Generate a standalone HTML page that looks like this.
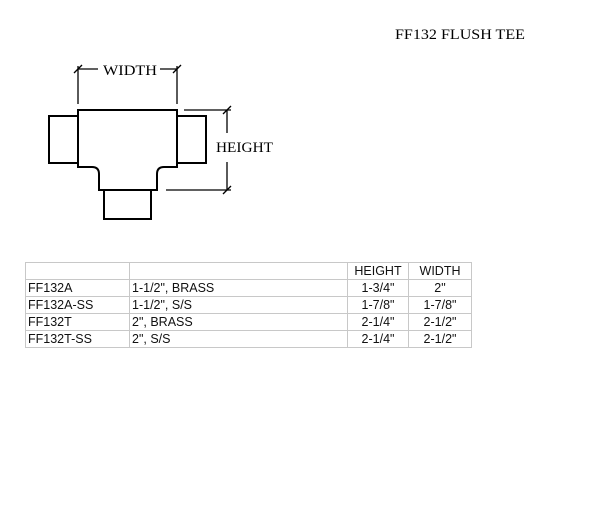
<!DOCTYPE html>
<html><head><style>
body{margin:0;background:#fff;width:613px;height:524px;position:relative;overflow:hidden}
svg{position:absolute;left:0;top:0}
table{position:absolute;left:25px;top:262px;border-collapse:collapse;font-family:"Liberation Sans",sans-serif;font-size:12.5px;color:#111}
td{border:1px solid #c8c8c8;height:16px;padding:0 2px;line-height:16px;white-space:nowrap}
td.c{text-align:center}
</style></head><body>
<svg width="613" height="524" viewBox="0 0 613 524">
<g fill="none" stroke="#000" stroke-width="2">
<path d="M78,110 H177 V167 H164 Q157,167 157,174 V190 H99 V174 Q99,167 92,167 H78 Z"/>
<rect x="49" y="116" width="29" height="47"/>
<rect x="177" y="116" width="29" height="47"/>
<rect x="104" y="190" width="47" height="29"/>
</g>
<g stroke="#000" stroke-width="1.3" fill="none">
<line x1="78" y1="66" x2="78" y2="104"/>
<line x1="177" y1="66" x2="177" y2="104"/>
<line x1="78" y1="69" x2="98" y2="69"/>
<line x1="160" y1="69" x2="177" y2="69"/>
<line x1="74" y1="73" x2="82" y2="65"/>
<line x1="173" y1="73" x2="181" y2="65"/>
<line x1="184" y1="110" x2="231" y2="110"/>
<line x1="166" y1="190" x2="231" y2="190"/>
<line x1="227" y1="110" x2="227" y2="133"/>
<line x1="227" y1="162" x2="227" y2="190"/>
<line x1="223" y1="114" x2="231" y2="106"/>
<line x1="223" y1="194" x2="231" y2="186"/>
</g>
<g font-family="Liberation Serif, serif" font-size="15" fill="#000">
<text x="103" y="75" textLength="54" lengthAdjust="spacingAndGlyphs">WIDTH</text>
<text x="216" y="152" textLength="57" lengthAdjust="spacingAndGlyphs">HEIGHT</text>
<text x="395" y="39" textLength="130" lengthAdjust="spacingAndGlyphs">FF132 FLUSH TEE</text>
</g>
</svg>
<table>
<tr><td style="width:99px"></td><td style="width:213px"></td><td class="c" style="width:56px">HEIGHT</td><td class="c" style="width:58px">WIDTH</td></tr>
<tr><td>FF132A</td><td>1-1/2", BRASS</td><td class="c">1-3/4"</td><td class="c">2"</td></tr>
<tr><td>FF132A-SS</td><td>1-1/2", S/S</td><td class="c">1-7/8"</td><td class="c">1-7/8"</td></tr>
<tr><td>FF132T</td><td>2", BRASS</td><td class="c">2-1/4"</td><td class="c">2-1/2"</td></tr>
<tr><td>FF132T-SS</td><td>2", S/S</td><td class="c">2-1/4"</td><td class="c">2-1/2"</td></tr>
</table>
</body></html>
